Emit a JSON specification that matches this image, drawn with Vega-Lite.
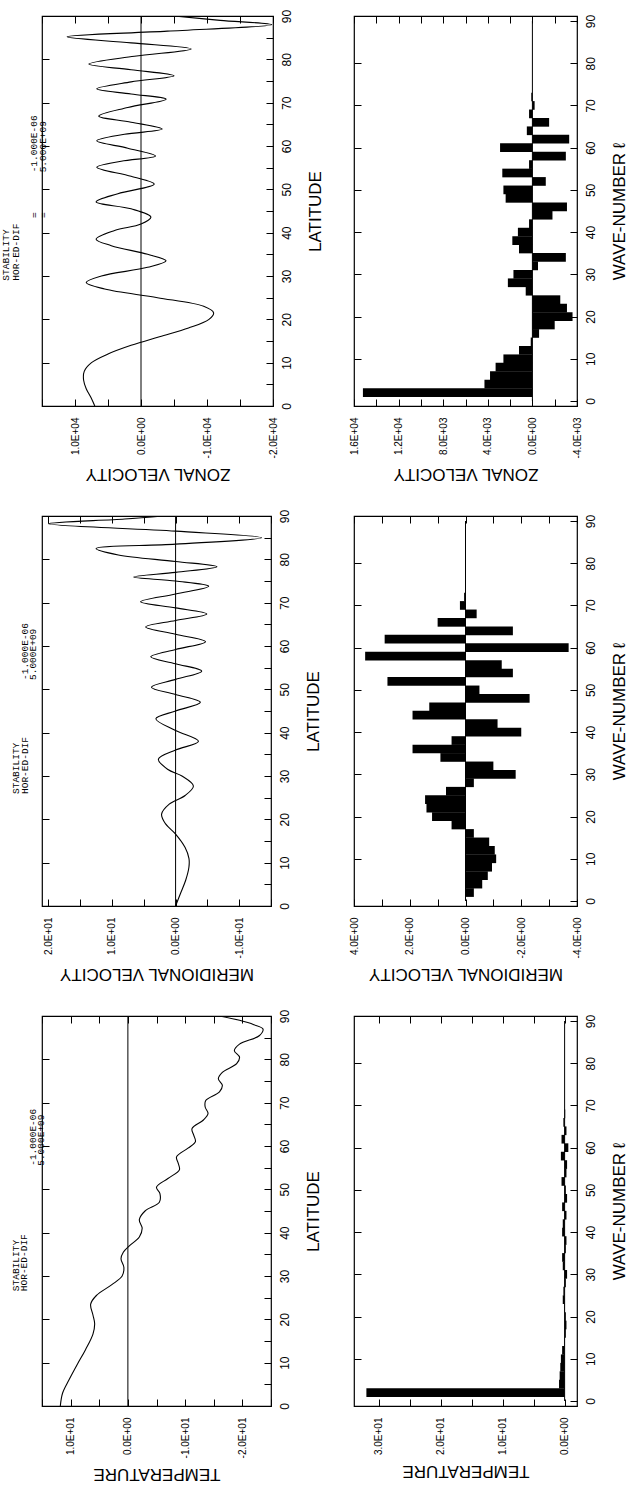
{
  "$schema": "https://vega.github.io/schema/vega-lite/v6.json",
  "padding": {"left": 0, "top": 8, "right": 0, "bottom": 0},
  "background": "white",
  "config": {
    "font": "Liberation Sans",
    "view": {"stroke": "black", "strokeWidth": 1.2},
    "axis": {"labelColor": "black", "tickColor": "black", "titleColor": "black", "tickWidth": 1, "labelFont": "Liberation Sans", "titleFont": "Liberation Sans", "minExtent": 0}
  },
  "datasets": {
    "zonal": [
      {"lat": 0, "v": 7000}, {"lat": 2, "v": 7600}, {"lat": 4, "v": 8300}, {"lat": 6, "v": 8700}, {"lat": 8, "v": 8600},
      {"lat": 10, "v": 7500}, {"lat": 12, "v": 5000}, {"lat": 14, "v": 1500}, {"lat": 16, "v": -2800}, {"lat": 18, "v": -7200},
      {"lat": 20, "v": -10300}, {"lat": 21.5, "v": -11000}, {"lat": 23, "v": -9500}, {"lat": 25, "v": -2500}, {"lat": 27, "v": 5500},
      {"lat": 28.5, "v": 8300}, {"lat": 30, "v": 6000}, {"lat": 32, "v": -1000}, {"lat": 33.5, "v": -3800}, {"lat": 35, "v": -1000},
      {"lat": 37, "v": 4500}, {"lat": 38.5, "v": 6800}, {"lat": 40.5, "v": 4000}, {"lat": 42, "v": 0}, {"lat": 43.6, "v": -1500},
      {"lat": 45.5, "v": 1500}, {"lat": 47.1, "v": 6800}, {"lat": 49, "v": 3500}, {"lat": 51.2, "v": -2000}, {"lat": 53, "v": 1500},
      {"lat": 55.1, "v": 6700}, {"lat": 56.5, "v": 3000}, {"lat": 57.7, "v": -2200}, {"lat": 59.5, "v": 2000}, {"lat": 61.2, "v": 6700},
      {"lat": 62.7, "v": 2500}, {"lat": 63.9, "v": -3200}, {"lat": 65.5, "v": 1500}, {"lat": 66.9, "v": 6400}, {"lat": 68.9, "v": 2000},
      {"lat": 70.8, "v": -3800}, {"lat": 72, "v": 1500}, {"lat": 73.2, "v": 6700}, {"lat": 74.8, "v": 1500}, {"lat": 76.2, "v": -5000},
      {"lat": 77.6, "v": 1500}, {"lat": 78.9, "v": 7900}, {"lat": 80.7, "v": 1000}, {"lat": 82.4, "v": -7600}, {"lat": 83.8, "v": 1500},
      {"lat": 85.2, "v": 11200}, {"lat": 86.5, "v": -4000}, {"lat": 88, "v": -19800}, {"lat": 89, "v": -12000}, {"lat": 90, "v": -5000}
    ],
    "merid": [
      {"lat": 0, "v": 0}, {"lat": 3, "v": -0.8}, {"lat": 6, "v": -1.6}, {"lat": 9, "v": -2.1}, {"lat": 11, "v": -2.1},
      {"lat": 13.5, "v": -1.5}, {"lat": 16.6, "v": 0}, {"lat": 19, "v": 1.6}, {"lat": 21.2, "v": 2.2}, {"lat": 23.5, "v": 1.0},
      {"lat": 25.5, "v": -1.5}, {"lat": 27.7, "v": -2.8}, {"lat": 30, "v": -1}, {"lat": 31.5, "v": 1.2}, {"lat": 33.9, "v": 2.7},
      {"lat": 36, "v": 0}, {"lat": 38, "v": -3.6}, {"lat": 40.5, "v": 0}, {"lat": 43.2, "v": 3.1}, {"lat": 45, "v": 0},
      {"lat": 47, "v": -3.9}, {"lat": 48.8, "v": 0}, {"lat": 50.5, "v": 3.8}, {"lat": 52.3, "v": 0}, {"lat": 54.2, "v": -4.1},
      {"lat": 55.9, "v": 0}, {"lat": 57.5, "v": 3.9}, {"lat": 59.2, "v": 0}, {"lat": 61, "v": -4.7}, {"lat": 62.7, "v": 0},
      {"lat": 64.4, "v": 4.7}, {"lat": 65.9, "v": 0}, {"lat": 67.4, "v": -4.9}, {"lat": 68.8, "v": 0}, {"lat": 70.2, "v": 5.5},
      {"lat": 72, "v": 0}, {"lat": 73.8, "v": -5.2}, {"lat": 75, "v": 0}, {"lat": 75.9, "v": 6.6}, {"lat": 77, "v": 0},
      {"lat": 78.3, "v": -6.5}, {"lat": 79.5, "v": 0}, {"lat": 81, "v": 9}, {"lat": 82.5, "v": 12.5}, {"lat": 83.5, "v": 0},
      {"lat": 85, "v": -13.5}, {"lat": 86.5, "v": 0}, {"lat": 88.2, "v": 20}, {"lat": 89.3, "v": 8}, {"lat": 90, "v": 2}
    ],
    "temp": [
      {"lat": 0, "v": 11.8}, {"lat": 3, "v": 11.4}, {"lat": 6, "v": 10.3}, {"lat": 9.7, "v": 8.8}, {"lat": 13, "v": 7.4},
      {"lat": 16.6, "v": 6.1}, {"lat": 19, "v": 5.8}, {"lat": 21, "v": 6.1}, {"lat": 23.5, "v": 6.5}, {"lat": 25.5, "v": 5.5},
      {"lat": 28, "v": 2.8}, {"lat": 30, "v": 1.0}, {"lat": 32, "v": 0.7}, {"lat": 34, "v": 1.2}, {"lat": 35.5, "v": 0.8},
      {"lat": 37, "v": -0.3}, {"lat": 39, "v": -2.0}, {"lat": 41, "v": -2.5}, {"lat": 43, "v": -2.0}, {"lat": 45, "v": -3.0},
      {"lat": 47, "v": -5.5}, {"lat": 49, "v": -5.6}, {"lat": 50.5, "v": -5.0}, {"lat": 52.5, "v": -7.0}, {"lat": 54.5, "v": -9.0},
      {"lat": 56, "v": -8.8}, {"lat": 57.5, "v": -8.5}, {"lat": 59.5, "v": -10.5}, {"lat": 61, "v": -11.8}, {"lat": 62.5, "v": -11.5},
      {"lat": 64, "v": -11.2}, {"lat": 66, "v": -13.2}, {"lat": 67.5, "v": -14.0}, {"lat": 69, "v": -13.5}, {"lat": 70.5, "v": -13.6},
      {"lat": 72.5, "v": -16.0}, {"lat": 74, "v": -16.5}, {"lat": 75.5, "v": -15.8}, {"lat": 77, "v": -16.5}, {"lat": 79, "v": -19.0},
      {"lat": 80.5, "v": -19.5}, {"lat": 82, "v": -18.6}, {"lat": 83.5, "v": -19.5}, {"lat": 85.5, "v": -23.0}, {"lat": 87, "v": -23.6},
      {"lat": 88, "v": -22.0}, {"lat": 89, "v": -19.5}, {"lat": 90, "v": -16}
    ],
    "zbar": [
      {"k": 2, "v": 15200}, {"k": 4, "v": 4300}, {"k": 6, "v": 3800}, {"k": 8, "v": 3300}, {"k": 10, "v": 2600},
      {"k": 12, "v": 1200}, {"k": 14, "v": 150}, {"k": 16, "v": -600}, {"k": 18, "v": -2000}, {"k": 20, "v": -3600},
      {"k": 22, "v": -3100}, {"k": 24, "v": -2500}, {"k": 26, "v": 600}, {"k": 28, "v": 2200}, {"k": 30, "v": 1700},
      {"k": 32, "v": -500}, {"k": 34, "v": -3000}, {"k": 36, "v": 1200}, {"k": 38, "v": 1800}, {"k": 40, "v": 1300},
      {"k": 42, "v": 300}, {"k": 44, "v": -1800}, {"k": 46, "v": -3100}, {"k": 48, "v": 2400}, {"k": 50, "v": 2600},
      {"k": 52, "v": -1200}, {"k": 54, "v": 2700}, {"k": 56, "v": 300}, {"k": 58, "v": -3000}, {"k": 60, "v": 2900},
      {"k": 62, "v": -3300}, {"k": 64, "v": 500}, {"k": 66, "v": -1500}, {"k": 68, "v": 300}, {"k": 70, "v": -200},
      {"k": 72, "v": 100}
    ],
    "mbar": [
      {"k": 2, "v": -0.3}, {"k": 4, "v": -0.6}, {"k": 6, "v": -0.8}, {"k": 8, "v": -0.95}, {"k": 10, "v": -1.1},
      {"k": 12, "v": -1.05}, {"k": 14, "v": -0.85}, {"k": 16, "v": -0.3}, {"k": 18, "v": 0.5}, {"k": 20, "v": 1.2},
      {"k": 22, "v": 1.4}, {"k": 24, "v": 1.45}, {"k": 26, "v": 0.7}, {"k": 28, "v": -0.3}, {"k": 30, "v": -1.8},
      {"k": 32, "v": -1.0}, {"k": 34, "v": 0.9}, {"k": 36, "v": 1.9}, {"k": 38, "v": 0.5}, {"k": 40, "v": -2.0},
      {"k": 42, "v": -1.15}, {"k": 44, "v": 1.9}, {"k": 46, "v": 1.3}, {"k": 48, "v": -2.3}, {"k": 50, "v": -0.5},
      {"k": 52, "v": 2.8}, {"k": 54, "v": -1.7}, {"k": 56, "v": -1.3}, {"k": 58, "v": 3.6}, {"k": 60, "v": -3.7},
      {"k": 62, "v": 2.9}, {"k": 64, "v": -1.7}, {"k": 66, "v": 1.0}, {"k": 68, "v": -0.4}, {"k": 70, "v": 0.2},
      {"k": 72, "v": 0.05}
    ],
    "tbar": [
      {"k": 2, "v": 32}, {"k": 4, "v": 0.9}, {"k": 6, "v": 0.8}, {"k": 8, "v": 0.7}, {"k": 10, "v": 0.6},
      {"k": 12, "v": 0.4}, {"k": 14, "v": 0.1}, {"k": 16, "v": -0.2}, {"k": 18, "v": -0.3}, {"k": 20, "v": -0.2},
      {"k": 22, "v": 0.1}, {"k": 24, "v": 0.3}, {"k": 26, "v": 0.2}, {"k": 28, "v": -0.2}, {"k": 30, "v": -0.4},
      {"k": 32, "v": 0.3}, {"k": 34, "v": 0.4}, {"k": 36, "v": -0.2}, {"k": 38, "v": -0.3}, {"k": 40, "v": 0.4},
      {"k": 42, "v": 0.3}, {"k": 44, "v": -0.3}, {"k": 46, "v": 0.4}, {"k": 48, "v": -0.4}, {"k": 50, "v": -0.2},
      {"k": 52, "v": 0.5}, {"k": 54, "v": -0.3}, {"k": 56, "v": -0.4}, {"k": 58, "v": 0.6}, {"k": 60, "v": -0.6},
      {"k": 62, "v": 0.5}, {"k": 64, "v": -0.3}, {"k": 66, "v": 0.2}, {"k": 68, "v": -0.1}
    ]
  },
  "columns": 2,
  "spacing": {"row": 110, "column": 81},
  "bounds": "flush",
  "concat": [
    {
      "width": 231, "height": 390,
      "title": {
        "text": [
          "\u200bSTABILITY\u00a0\u00a0\u00a0\u00a0\u00a0\u00a0\u00a0\u00a0\u00a0\u00a0\u00a0\u00a0\u00a0\u00a0\u00a0\u00a0\u00a0\u00a0\u00a0\u00a0\u200b",
          "\u200bHOR-ED-DIF\u00a0\u00a0\u00a0\u00a0\u00a0\u00a0\u00a0\u00a0\u00a0\u00a0\u00a0\u00a0\u00a0\u00a0\u00a0\u00a0\u00a0\u00a0\u00a0\u200b",
          "\u200b\u00a0\u00a0\u00a0\u00a0\u00a0\u00a0\u00a0\u00a0\u00a0\u00a0\u00a0\u00a0\u00a0\u00a0\u00a0\u00a0\u00a0\u00a0\u00a0\u00a0\u00a0\u00a0\u00a0\u00a0\u00a0\u00a0\u00a0\u00a0\u00a0\u200b",
          "\u200b\u00a0\u00a0\u00a0\u00a0\u00a0\u00a0\u00a0\u00a0\u00a0\u00a0\u00a0=\u00a0\u00a0\u00a0\u00a0\u00a0\u00a0\u00a0-1.000E-06\u200b",
          "\u200b\u00a0\u00a0\u00a0\u00a0\u00a0\u00a0\u00a0\u00a0\u00a0\u00a0\u00a0=\u00a0\u00a0\u00a0\u00a0\u00a0\u00a0\u00a05.000E+09\u00a0\u200b"],
        "orient": "left", "anchor": "middle", "frame": "group", "dx": 13, "offset": -11,
        "font": "Liberation Mono", "fontSize": 9.5, "fontWeight": "normal", "lineHeight": 9.3, "color": "black"
      },
      "layer": [
        {
          "data": {"values": [{}]},
          "mark": {"type": "rule", "color": "black", "strokeWidth": 1},
          "encoding": {
            "x": {"datum": 0, "type": "quantitative", "scale": {"domain": [-20000, 15000], "reverse": true, "nice": false, "zero": false},
              "axis": {"orient": "top", "values": [-20000, -15000, -10000, -5000, 0, 5000, 10000, 15000], "labels": false, "offset": -7, "tickSize": 7, "domain": false, "grid": false, "title": null}},
            "y": {"datum": 0, "type": "quantitative", "scale": {"domain": [0, 90], "nice": false},
              "axis": {"orient": "left", "values": [10, 20, 30, 40, 50, 60, 70, 80], "labels": false, "offset": -7, "tickSize": 7, "domain": false, "grid": false, "title": null, "minExtent": 0}},
            "y2": {"datum": 90}
          }
        },
        {
          "data": {"name": "zonal"},
          "mark": {"type": "line", "color": "black", "strokeWidth": 1.1, "interpolate": "catmull-rom", "clip": true},
          "encoding": {
            "x": {"field": "v", "type": "quantitative", "scale": {"domain": [-20000, 15000], "reverse": true, "nice": false, "zero": false},
              "axis": {"orient": "bottom", "values": [-20000, -15000, -10000, -5000, 0, 5000, 10000, 15000],
                "labelExpr": "datum.value % 10000 ? '' : replace(replace(replace(format(datum.value, '.1e'), '\u2212', '-'), 'e+', 'E+0'), 'e-', 'E-0')",
                "labelAngle": -90, "labelAlign": "right", "labelBaseline": "middle", "labelFontSize": 10, "labelPadding": 11,
                "offset": -7, "tickSize": 7, "domain": false, "grid": false, "labelFlush": false, "labelOverlap": false,
                "title": "ZONAL VELOCITY", "titleAngle": 180, "titleBaseline": "bottom", "titleAlign": "center", "titlePadding": 7, "titleFontSize": 17, "titleFontWeight": "normal"}},
            "y": {"field": "lat", "type": "quantitative", "scale": {"domain": [0, 90], "nice": false},
              "axis": {"orient": "right", "values": [0, 5, 10, 15, 20, 25, 30, 35, 40, 45, 50, 55, 60, 65, 70, 75, 80, 85, 90],
                "labelExpr": "datum.value % 10 ? '' : datum.label", "labelAngle": -90, "labelAlign": "center", "labelBaseline": "top",
                "labelFontSize": 12, "labelPadding": 8, "offset": -7, "tickSize": 7, "domain": false, "grid": false, "labelFlush": false, "labelOverlap": false,
                "title": "LATITUDE", "titleAngle": -90, "titleBaseline": "top", "titleAlign": "center", "titlePadding": 15, "titleFontSize": 17, "titleFontWeight": "normal"}},
            "order": {"field": "lat"}
          }
        }
      ],
      "resolve": {"axis": {"x": "independent", "y": "independent"}}
    },
    {
      "width": 223, "height": 390,
      "layer": [
        {
          "data": {"values": [{}]},
          "mark": {"type": "rule", "color": "black", "strokeWidth": 1},
          "encoding": {
            "x": {"datum": 0, "type": "quantitative", "scale": {"domain": [-4000, 16000], "reverse": true, "nice": false, "zero": false},
              "axis": {"orient": "top", "values": [-4000, -2000, 0, 2000, 4000, 6000, 8000, 10000, 12000, 14000, 16000], "labels": false, "offset": -7, "tickSize": 7, "domain": false, "grid": false, "title": null}},
            "y": {"datum": 0, "type": "quantitative", "scale": {"domain": [0, 90], "nice": false},
              "axis": {"orient": "left", "values": [10, 20, 30, 40, 50, 60, 70, 80], "labels": false, "offset": -7, "tickSize": 7, "domain": false, "grid": false, "title": null, "minExtent": 0}},
            "y2": {"datum": 90}
          }
        },
        {
          "data": {"name": "zbar"},
          "mark": {"type": "bar", "orient": "horizontal", "color": "black", "height": 8.7},
          "encoding": {
            "x": {"field": "v", "type": "quantitative", "scale": {"domain": [-4000, 16000], "reverse": true, "nice": false, "zero": false},
              "axis": {"orient": "bottom", "values": [-4000, -2000, 0, 2000, 4000, 6000, 8000, 10000, 12000, 14000, 16000],
                "labelExpr": "datum.value % 4000 ? '' : replace(replace(replace(format(datum.value, '.1e'), '\u2212', '-'), 'e+', 'E+0'), 'e-', 'E-0')",
                "labelAngle": -90, "labelAlign": "right", "labelBaseline": "middle", "labelFontSize": 10, "labelPadding": 11,
                "offset": -7, "tickSize": 7, "domain": false, "grid": false, "labelFlush": false, "labelOverlap": false,
                "title": "ZONAL VELOCITY", "titleAngle": 180, "titleBaseline": "bottom", "titleAlign": "center", "titlePadding": 7, "titleFontSize": 17, "titleFontWeight": "normal"}},
            "y": {"field": "k", "type": "quantitative", "scale": {"domain": [0, 90], "nice": false},
              "axis": {"orient": "right", "values": [0, 10, 20, 30, 40, 50, 60, 70, 80, 90],
                "labelAngle": -90, "labelAlign": "center", "labelBaseline": "top",
                "labelFontSize": 12, "labelPadding": 8, "offset": -7, "tickSize": 7, "domain": false, "grid": false, "labelFlush": false, "labelOverlap": false,
                "title": "WAVE-NUMBER \u2113", "titleAngle": -90, "titleBaseline": "top", "titleAlign": "center", "titlePadding": 15, "titleFontSize": 17, "titleFontWeight": "normal"}}
          }
        }
      ],
      "resolve": {"axis": {"x": "independent", "y": "independent"}}
    },
    {
      "width": 229, "height": 390,
      "title": {
        "text": [
          "\u200bSTABILITY\u00a0\u00a0\u00a0\u00a0\u00a0\u00a0\u00a0\u00a0\u00a0\u00a0\u00a0\u00a0\u00a0\u00a0\u00a0\u00a0\u00a0\u00a0\u00a0\u00a0\u00a0\u200b",
          "\u200bHOR-ED-DIF\u00a0\u00a0\u00a0\u00a0\u00a0\u00a0\u00a0\u00a0\u00a0\u00a0-1.000E-06\u200b",
          "\u200b\u00a0\u00a0\u00a0\u00a0\u00a0\u00a0\u00a0\u00a0\u00a0\u00a0\u00a0\u00a0\u00a0\u00a0\u00a0\u00a0\u00a0\u00a0\u00a0\u00a05.000E+09\u00a0\u200b"],
        "orient": "left", "anchor": "middle", "frame": "group", "dx": 2.5, "offset": 4,
        "font": "Liberation Mono", "fontSize": 9.5, "fontWeight": "normal", "lineHeight": 8.5, "color": "black"
      },
      "layer": [
        {
          "data": {"values": [{}]},
          "mark": {"type": "rule", "color": "black", "strokeWidth": 1},
          "encoding": {
            "x": {"datum": 0, "type": "quantitative", "scale": {"domain": [-15, 21], "reverse": true, "nice": false, "zero": false},
              "axis": {"orient": "top", "values": [-15, -10, -5, 0, 5, 10, 15, 20], "labels": false, "offset": -7, "tickSize": 7, "domain": false, "grid": false, "title": null}},
            "y": {"datum": 0, "type": "quantitative", "scale": {"domain": [0, 90], "nice": false},
              "axis": {"orient": "left", "values": [10, 20, 30, 40, 50, 60, 70, 80], "labels": false, "offset": -7, "tickSize": 7, "domain": false, "grid": false, "title": null, "minExtent": 0}},
            "y2": {"datum": 90}
          }
        },
        {
          "data": {"name": "merid"},
          "mark": {"type": "line", "color": "black", "strokeWidth": 1.1, "interpolate": "catmull-rom", "clip": true},
          "encoding": {
            "x": {"field": "v", "type": "quantitative", "scale": {"domain": [-15, 21], "reverse": true, "nice": false, "zero": false},
              "axis": {"orient": "bottom", "values": [-15, -10, -5, 0, 5, 10, 15, 20],
                "labelExpr": "datum.value % 10 ? '' : replace(replace(replace(format(datum.value, '.1e'), '\u2212', '-'), 'e+', 'E+0'), 'e-', 'E-0')",
                "labelAngle": -90, "labelAlign": "right", "labelBaseline": "middle", "labelFontSize": 10, "labelPadding": 11,
                "offset": -7, "tickSize": 7, "domain": false, "grid": false, "labelFlush": false, "labelOverlap": false,
                "title": "MERIDIONAL VELOCITY", "titleAngle": 180, "titleBaseline": "bottom", "titleAlign": "center", "titlePadding": 7, "titleFontSize": 17, "titleFontWeight": "normal"}},
            "y": {"field": "lat", "type": "quantitative", "scale": {"domain": [0, 90], "nice": false},
              "axis": {"orient": "right", "values": [0, 5, 10, 15, 20, 25, 30, 35, 40, 45, 50, 55, 60, 65, 70, 75, 80, 85, 90],
                "labelExpr": "datum.value % 10 ? '' : datum.label", "labelAngle": -90, "labelAlign": "center", "labelBaseline": "top",
                "labelFontSize": 12, "labelPadding": 8, "offset": -7, "tickSize": 7, "domain": false, "grid": false, "labelFlush": false, "labelOverlap": false,
                "title": "LATITUDE", "titleAngle": -90, "titleBaseline": "top", "titleAlign": "center", "titlePadding": 15, "titleFontSize": 17, "titleFontWeight": "normal"}},
            "order": {"field": "lat"}
          }
        }
      ],
      "resolve": {"axis": {"x": "independent", "y": "independent"}}
    },
    {
      "width": 223, "height": 390,
      "layer": [
        {
          "data": {"values": [{}]},
          "mark": {"type": "rule", "color": "black", "strokeWidth": 1},
          "encoding": {
            "x": {"datum": 0, "type": "quantitative", "scale": {"domain": [-4, 4], "reverse": true, "nice": false, "zero": false},
              "axis": {"orient": "top", "values": [-4, -3, -2, -1, 0, 1, 2, 3, 4], "labels": false, "offset": -7, "tickSize": 7, "domain": false, "grid": false, "title": null}},
            "y": {"datum": 0, "type": "quantitative", "scale": {"domain": [0, 90], "nice": false},
              "axis": {"orient": "left", "values": [10, 20, 30, 40, 50, 60, 70, 80], "labels": false, "offset": -7, "tickSize": 7, "domain": false, "grid": false, "title": null, "minExtent": 0}},
            "y2": {"datum": 90}
          }
        },
        {
          "data": {"name": "mbar"},
          "mark": {"type": "bar", "orient": "horizontal", "color": "black", "height": 8.7},
          "encoding": {
            "x": {"field": "v", "type": "quantitative", "scale": {"domain": [-4, 4], "reverse": true, "nice": false, "zero": false},
              "axis": {"orient": "bottom", "values": [-4, -3, -2, -1, 0, 1, 2, 3, 4],
                "labelExpr": "datum.value % 2 ? '' : replace(replace(replace(format(datum.value, '.1e'), '\u2212', '-'), 'e+', 'E+0'), 'e-', 'E-0')",
                "labelAngle": -90, "labelAlign": "right", "labelBaseline": "middle", "labelFontSize": 10, "labelPadding": 11,
                "offset": -7, "tickSize": 7, "domain": false, "grid": false, "labelFlush": false, "labelOverlap": false,
                "title": "MERIDIONAL VELOCITY", "titleAngle": 180, "titleBaseline": "bottom", "titleAlign": "center", "titlePadding": 7, "titleFontSize": 17, "titleFontWeight": "normal"}},
            "y": {"field": "k", "type": "quantitative", "scale": {"domain": [0, 90], "nice": false},
              "axis": {"orient": "right", "values": [0, 10, 20, 30, 40, 50, 60, 70, 80, 90],
                "labelAngle": -90, "labelAlign": "center", "labelBaseline": "top",
                "labelFontSize": 12, "labelPadding": 8, "offset": -7, "tickSize": 7, "domain": false, "grid": false, "labelFlush": false, "labelOverlap": false,
                "title": "WAVE-NUMBER \u2113", "titleAngle": -90, "titleBaseline": "top", "titleAlign": "center", "titlePadding": 15, "titleFontSize": 17, "titleFontWeight": "normal"}}
          }
        }
      ],
      "resolve": {"axis": {"x": "independent", "y": "independent"}}
    },
    {
      "width": 229, "height": 390,
      "title": {
        "text": [
          "\u200bSTABILITY\u00a0\u00a0\u00a0\u00a0\u00a0\u00a0\u00a0\u00a0\u00a0\u00a0\u00a0\u00a0\u00a0\u00a0\u00a0\u00a0\u00a0\u00a0\u00a0\u00a0\u00a0\u00a0\u00a0\u200b",
          "\u200bHOR-ED-DIF\u00a0\u00a0\u00a0\u00a0\u00a0\u00a0\u00a0\u00a0\u00a0\u00a0\u00a0\u00a0\u00a0\u00a0\u00a0\u00a0\u00a0\u00a0\u00a0\u00a0\u00a0\u00a0\u200b",
          "\u200b\u00a0\u00a0\u00a0\u00a0\u00a0\u00a0\u00a0\u00a0\u00a0\u00a0\u00a0\u00a0\u00a0\u00a0\u00a0\u00a0\u00a0\u00a0\u00a0\u00a0\u00a0\u00a0-1.000E-06\u200b",
          "\u200b\u00a0\u00a0\u00a0\u00a0\u00a0\u00a0\u00a0\u00a0\u00a0\u00a0\u00a0\u00a0\u00a0\u00a0\u00a0\u00a0\u00a0\u00a0\u00a0\u00a0\u00a0\u00a05.000E+09\u00a0\u200b"],
        "orient": "left", "anchor": "middle", "frame": "group", "dx": 11, "offset": -8.5,
        "font": "Liberation Mono", "fontSize": 9.5, "fontWeight": "normal", "lineHeight": 8.5, "color": "black"
      },
      "layer": [
        {
          "data": {"values": [{}]},
          "mark": {"type": "rule", "color": "black", "strokeWidth": 1},
          "encoding": {
            "x": {"datum": 0, "type": "quantitative", "scale": {"domain": [-25, 15], "reverse": true, "nice": false, "zero": false},
              "axis": {"orient": "top", "values": [-25, -20, -15, -10, -5, 0, 5, 10, 15], "labels": false, "offset": -7, "tickSize": 7, "domain": false, "grid": false, "title": null}},
            "y": {"datum": 0, "type": "quantitative", "scale": {"domain": [0, 90], "nice": false},
              "axis": {"orient": "left", "values": [10, 20, 30, 40, 50, 60, 70, 80], "labels": false, "offset": -7, "tickSize": 7, "domain": false, "grid": false, "title": null, "minExtent": 0}},
            "y2": {"datum": 90}
          }
        },
        {
          "data": {"name": "temp"},
          "mark": {"type": "line", "color": "black", "strokeWidth": 1.1, "interpolate": "catmull-rom", "clip": true},
          "encoding": {
            "x": {"field": "v", "type": "quantitative", "scale": {"domain": [-25, 15], "reverse": true, "nice": false, "zero": false},
              "axis": {"orient": "bottom", "values": [-25, -20, -15, -10, -5, 0, 5, 10, 15],
                "labelExpr": "datum.value % 10 ? '' : replace(replace(replace(format(datum.value, '.1e'), '\u2212', '-'), 'e+', 'E+0'), 'e-', 'E-0')",
                "labelAngle": -90, "labelAlign": "right", "labelBaseline": "middle", "labelFontSize": 10, "labelPadding": 11,
                "offset": -7, "tickSize": 7, "domain": false, "grid": false, "labelFlush": false, "labelOverlap": false,
                "title": "TEMPERATURE", "titleAngle": 180, "titleBaseline": "bottom", "titleAlign": "center", "titlePadding": 7, "titleFontSize": 17, "titleFontWeight": "normal"}},
            "y": {"field": "lat", "type": "quantitative", "scale": {"domain": [0, 90], "nice": false},
              "axis": {"orient": "right", "values": [0, 5, 10, 15, 20, 25, 30, 35, 40, 45, 50, 55, 60, 65, 70, 75, 80, 85, 90],
                "labelExpr": "datum.value % 10 ? '' : datum.label", "labelAngle": -90, "labelAlign": "center", "labelBaseline": "top",
                "labelFontSize": 12, "labelPadding": 8, "offset": -7, "tickSize": 7, "domain": false, "grid": false, "labelFlush": false, "labelOverlap": false,
                "title": "LATITUDE", "titleAngle": -90, "titleBaseline": "top", "titleAlign": "center", "titlePadding": 15, "titleFontSize": 17, "titleFontWeight": "normal"}},
            "order": {"field": "lat"}
          }
        }
      ],
      "resolve": {"axis": {"x": "independent", "y": "independent"}}
    },
    {
      "width": 223, "height": 390,
      "layer": [
        {
          "data": {"values": [{}]},
          "mark": {"type": "rule", "color": "black", "strokeWidth": 1},
          "encoding": {
            "x": {"datum": 0, "type": "quantitative", "scale": {"domain": [-2, 34], "reverse": true, "nice": false, "zero": false},
              "axis": {"orient": "top", "values": [0, 5, 10, 15, 20, 25, 30], "labels": false, "offset": -7, "tickSize": 7, "domain": false, "grid": false, "title": null}},
            "y": {"datum": 0, "type": "quantitative", "scale": {"domain": [0, 90], "nice": false},
              "axis": {"orient": "left", "values": [10, 20, 30, 40, 50, 60, 70, 80], "labels": false, "offset": -7, "tickSize": 7, "domain": false, "grid": false, "title": null, "minExtent": 0}},
            "y2": {"datum": 90}
          }
        },
        {
          "data": {"name": "tbar"},
          "mark": {"type": "bar", "orient": "horizontal", "color": "black", "height": 8.7},
          "encoding": {
            "x": {"field": "v", "type": "quantitative", "scale": {"domain": [-2, 34], "reverse": true, "nice": false, "zero": false},
              "axis": {"orient": "bottom", "values": [0, 5, 10, 15, 20, 25, 30],
                "labelExpr": "datum.value % 10 ? '' : replace(replace(replace(format(datum.value, '.1e'), '\u2212', '-'), 'e+', 'E+0'), 'e-', 'E-0')",
                "labelAngle": -90, "labelAlign": "right", "labelBaseline": "middle", "labelFontSize": 10, "labelPadding": 11,
                "offset": -7, "tickSize": 7, "domain": false, "grid": false, "labelFlush": false, "labelOverlap": false,
                "title": "TEMPERATURE", "titleAngle": 180, "titleBaseline": "bottom", "titleAlign": "center", "titlePadding": 7, "titleFontSize": 17, "titleFontWeight": "normal"}},
            "y": {"field": "k", "type": "quantitative", "scale": {"domain": [0, 90], "nice": false},
              "axis": {"orient": "right", "values": [0, 10, 20, 30, 40, 50, 60, 70, 80, 90],
                "labelAngle": -90, "labelAlign": "center", "labelBaseline": "top",
                "labelFontSize": 12, "labelPadding": 8, "offset": -7, "tickSize": 7, "domain": false, "grid": false, "labelFlush": false, "labelOverlap": false,
                "title": "WAVE-NUMBER \u2113", "titleAngle": -90, "titleBaseline": "top", "titleAlign": "center", "titlePadding": 15, "titleFontSize": 17, "titleFontWeight": "normal"}}
          }
        }
      ],
      "resolve": {"axis": {"x": "independent", "y": "independent"}}
    }
  ]
}
